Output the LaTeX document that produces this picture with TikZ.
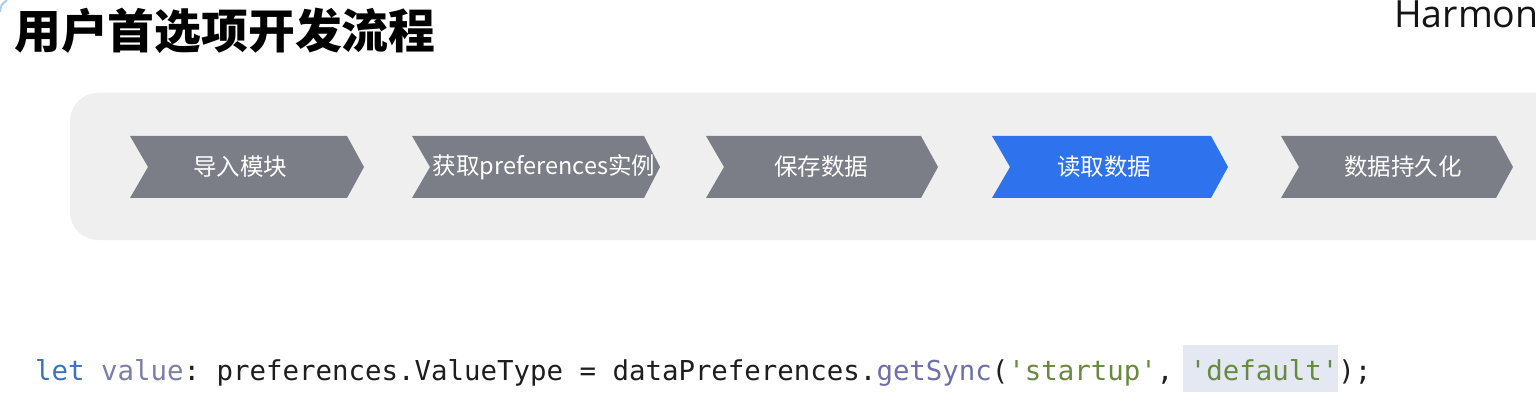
\documentclass[tikz,border=0pt]{standalone}
\usepackage{fontspec}
\setmainfont{Open Sans}
\setmonofont{DejaVu Sans Mono}
\newfontfamily\cjk{Noto Sans CJK SC}
\definecolor{panel}{HTML}{EFEFF0}
\definecolor{chevgray}{HTML}{7B7E87}
\definecolor{chevblue}{HTML}{2F72EE}
\definecolor{kw}{HTML}{3A73C0}
\definecolor{var}{HTML}{7A7FA8}
\definecolor{fn}{HTML}{6E70A8}
\definecolor{str}{HTML}{678B3E}
\definecolor{codetext}{HTML}{1E1E1E}
\definecolor{hl}{HTML}{E3E8F2}
\definecolor{arcblue}{HTML}{A9CBF2}
\tikzset{
  chevlabel/.style={inner sep=0pt, text=white, font=\cjk\fontsize{23.5}{26}\selectfont},
}
\begin{document}
\begin{tikzpicture}[x=1pt,y=-1pt]
\useasboundingbox (0,0) rectangle (1536,406);
\clip (0,0) rectangle (1536,406);
\fill[white] (0,0) rectangle (1536,406);
\draw[arcblue, line width=2pt] (0,12) .. controls (1,5) .. (7,0);
% panel
\fill[panel, rounded corners=28pt] (70,93) rectangle (1600,240);
% chevrons
\fill[chevgray] (130,136) -- (347,136) -- (364,167) -- (347,198) -- (130,198) -- (148,167) -- cycle;
\fill[chevgray] (412,136) -- (644,136) -- (660,167) -- (644,198) -- (412,198) -- (430,167) -- cycle;
\fill[chevgray] (706,136) -- (921,136) -- (938,167) -- (921,198) -- (706,198) -- (724,167) -- cycle;
\fill[chevblue] (992,136) -- (1211,136) -- (1228,167) -- (1211,198) -- (992,198) -- (1010,167) -- cycle;
\fill[chevgray] (1281,136) -- (1496,136) -- (1513,167) -- (1496,198) -- (1281,198) -- (1299,167) -- cycle;
\node[chevlabel] (s1) at (240,167) {导入模块};
\node[chevlabel] (s2) at (544,167) {获取preferences实例};
\node[chevlabel] (s3) at (821,167) {保存数据};
\node[chevlabel] (s4) at (1104,167) {读取数据};
\node[chevlabel] (s5) at (1403,167) {数据持久化};
% title and brand
\node[anchor=base west, inner sep=0pt, font=\cjk\bfseries\fontsize{46.8}{50}\selectfont] (title) at (14,49) {用户首选项开发流程};
\node[anchor=base west, inner sep=0pt, text=black!92, font=\fontsize{37.5}{40}\selectfont] (brand) at (1394,28) {Harmon};
% code line
\fill[hl] (1183,345) rectangle (1338,392);
\node[anchor=base west, inner sep=0pt, text=codetext, font=\ttfamily\fontsize{27.4}{30}\selectfont] (code) at (35,380) {\textcolor{kw}{let} \textcolor{var}{value}: preferences.ValueType = dataPreferences.\textcolor{fn}{getSync}(\textcolor{str}{'startup'}, \textcolor{str}{'default'});};
\end{tikzpicture}
\end{document}
